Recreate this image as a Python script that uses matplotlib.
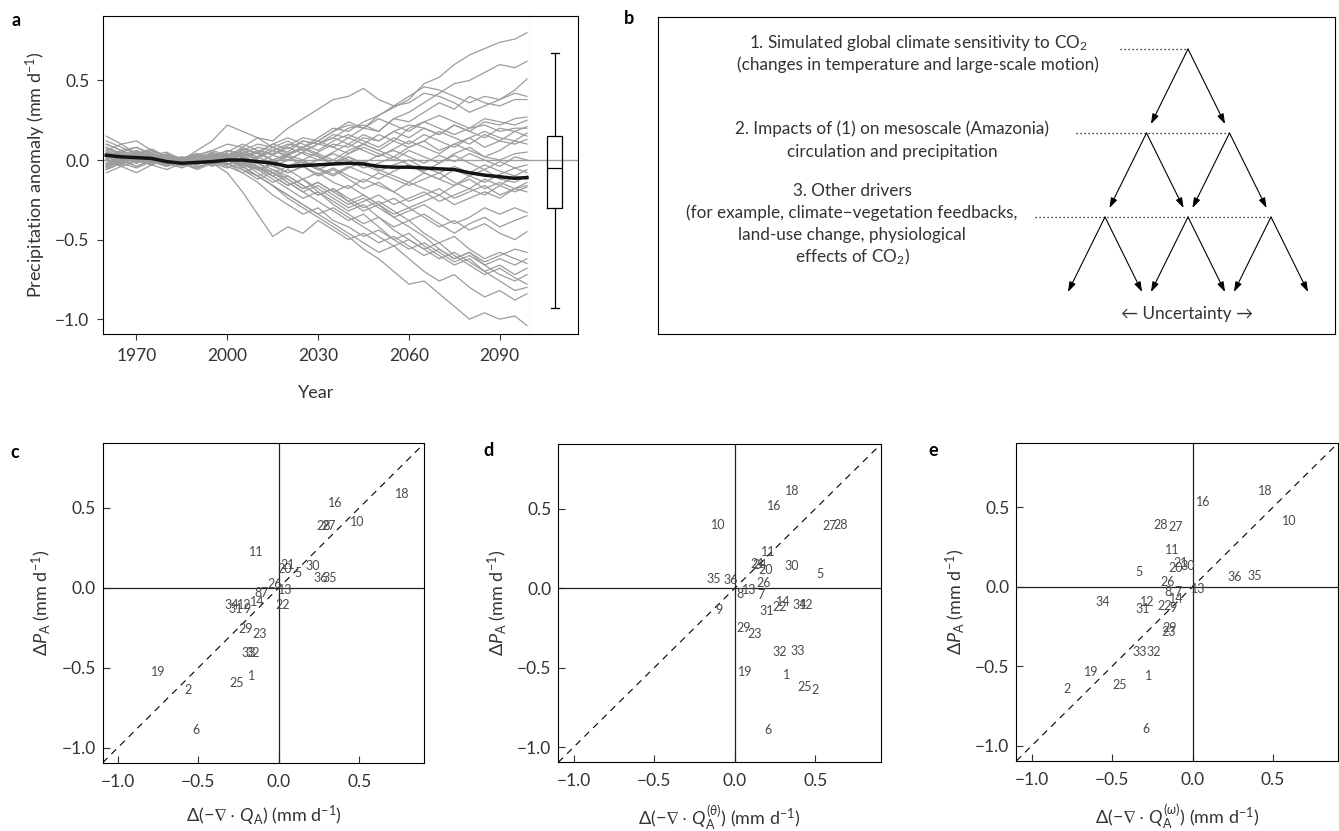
import numpy as np
import matplotlib.pyplot as plt
from matplotlib.ticker import FuncFormatter

plt.rcParams['font.family'] = ['Lato', 'DejaVu Sans']
plt.rcParams['mathtext.fontset'] = 'custom'
plt.rcParams['mathtext.rm'] = 'Lato'
plt.rcParams['mathtext.it'] = 'Lato:italic'
plt.rcParams['mathtext.fallback'] = 'stix'

W, H = 1339, 831
TXT = '#333333'

# %% panel a data: regional precipitation anomaly, 36 models (5-yr samples)
years = [1960, 1965, 1970, 1975, 1980, 1985, 1990, 1995, 2000, 2005, 2010, 2015, 2020, 2025,
         2030, 2035, 2040, 2045, 2050, 2055, 2060, 2065, 2070, 2075, 2080, 2085, 2090, 2095, 2099]

models = [
    [0.05,0.02,0.06,0.01,-0.02,-0.01,0.02,0.00,0.04,0.02,0.05,0.00,0.03,0.08,0.12,0.18,0.22,0.20,0.28,0.33,0.38,0.48,0.52,0.60,0.66,0.70,0.74,0.76,0.80],
    [0.00,0.04,-0.02,0.03,0.00,-0.03,0.01,0.05,0.02,0.08,0.04,0.10,0.07,0.12,0.10,0.16,0.14,0.20,0.18,0.26,0.30,0.36,0.42,0.48,0.50,0.55,0.60,0.58,0.62],
    [0.10,0.06,0.08,0.03,0.05,0.00,0.03,0.06,0.10,0.08,0.14,0.12,0.20,0.26,0.32,0.38,0.40,0.45,0.38,0.34,0.36,0.42,0.40,0.36,0.30,0.34,0.38,0.44,0.51],
    [-0.04,0.02,0.00,-0.02,0.03,0.00,0.04,0.02,0.06,0.04,0.08,0.06,0.10,0.08,0.14,0.20,0.18,0.24,0.28,0.34,0.40,0.46,0.44,0.40,0.36,0.40,0.38,0.42,0.40],
    [0.03,0.00,0.05,0.02,-0.01,0.02,0.00,-0.03,0.02,0.05,0.02,0.08,0.05,0.12,0.10,0.14,0.20,0.22,0.18,0.26,0.24,0.30,0.36,0.32,0.40,0.36,0.34,0.38,0.38],
    [0.06,0.10,0.04,0.07,0.02,0.00,-0.02,0.02,0.00,0.04,0.01,0.06,0.03,0.00,0.05,0.10,0.08,0.14,0.12,0.18,0.22,0.20,0.16,0.22,0.18,0.24,0.22,0.26,0.27],
    [-0.02,0.03,0.00,0.04,0.01,-0.02,0.02,0.00,0.05,0.10,0.06,0.04,0.09,0.14,0.12,0.18,0.24,0.20,0.26,0.22,0.18,0.24,0.28,0.24,0.20,0.26,0.24,0.22,0.25],
    [0.08,0.04,0.06,0.02,-0.02,0.00,0.06,0.12,0.22,0.18,0.14,0.08,0.12,0.06,0.10,0.14,0.10,0.16,0.12,0.18,0.14,0.20,0.16,0.22,0.18,0.14,0.20,0.18,0.21],
    [0.00,-0.03,0.02,-0.01,0.03,0.00,-0.02,0.01,-0.03,0.02,0.06,0.03,0.00,0.05,0.10,0.08,0.14,0.10,0.06,0.12,0.20,0.24,0.20,0.16,0.20,0.22,0.18,0.20,0.20],
    [0.04,0.00,0.03,0.06,0.02,-0.01,0.03,0.06,0.03,0.00,0.05,0.10,0.14,0.10,0.06,0.12,0.16,0.12,0.08,0.14,0.10,0.16,0.12,0.08,0.14,0.18,0.14,0.12,0.17],
    [-0.06,-0.02,0.02,-0.02,0.00,-0.04,0.00,0.04,0.02,0.06,0.10,0.08,0.04,0.08,0.04,0.00,0.06,0.10,0.16,0.12,0.08,0.12,0.18,0.14,0.10,0.16,0.12,0.18,0.15],
    [0.02,0.06,0.02,0.00,0.04,0.01,0.04,0.00,0.03,0.07,0.04,0.00,0.04,0.08,0.12,0.08,0.04,0.10,0.06,0.02,0.08,0.12,0.06,0.10,0.14,0.08,0.12,0.10,0.13],
    [0.00,0.05,0.08,0.04,0.00,0.02,-0.02,0.02,0.06,0.02,-0.02,0.03,0.08,0.04,0.00,0.05,0.10,0.06,0.02,0.07,0.12,0.08,0.04,0.10,0.06,0.02,0.06,0.12,0.10],
    [0.12,0.08,0.04,0.06,0.02,0.00,0.03,-0.01,0.02,0.06,0.02,-0.02,0.03,0.07,0.03,-0.02,0.04,0.08,0.04,0.00,0.06,0.02,-0.02,0.04,0.08,0.02,0.00,0.04,0.05],
    [-0.05,0.00,0.04,0.00,-0.04,-0.01,0.02,-0.02,0.00,0.04,0.00,-0.04,0.00,0.05,0.02,-0.03,0.02,-0.02,0.03,0.06,0.02,-0.02,0.03,-0.01,0.04,0.00,-0.04,0.02,0.00],
    [0.15,0.10,0.12,0.06,0.02,-0.02,0.00,0.03,0.00,-0.03,0.02,0.06,0.02,-0.04,0.00,0.04,0.00,-0.05,-0.02,0.02,-0.03,-0.07,-0.02,0.03,-0.02,-0.06,-0.01,-0.05,-0.03],
    [0.02,-0.02,0.01,0.04,0.00,-0.03,0.00,0.04,0.01,-0.03,-0.06,-0.02,0.02,-0.02,-0.06,-0.02,0.02,-0.03,-0.07,-0.03,0.00,-0.05,-0.08,-0.04,-0.08,-0.03,-0.07,-0.10,-0.06],
    [-0.06,-0.02,-0.05,-0.01,-0.04,0.00,-0.03,0.00,0.04,0.00,-0.04,-0.08,-0.04,0.00,-0.05,-0.09,-0.04,-0.08,-0.12,-0.07,-0.03,-0.08,-0.12,-0.06,-0.10,-0.14,-0.09,-0.05,-0.08],
    [0.08,0.04,0.00,0.03,-0.02,0.01,0.04,0.00,-0.03,0.02,0.05,0.00,-0.05,-0.01,-0.06,-0.10,-0.05,-0.01,-0.06,-0.10,-0.14,-0.08,-0.12,-0.16,-0.10,-0.06,-0.12,-0.14,-0.10],
    [0.00,0.04,0.00,-0.03,0.01,-0.02,-0.05,-0.01,0.03,-0.02,-0.06,-0.03,-0.08,-0.04,-0.09,-0.05,-0.10,-0.14,-0.08,-0.12,-0.16,-0.12,-0.08,-0.14,-0.18,-0.12,-0.16,-0.10,-0.12],
    [-0.03,0.01,0.05,0.01,-0.03,0.00,0.03,-0.02,-0.05,-0.01,-0.05,-0.10,-0.06,-0.12,-0.08,-0.14,-0.18,-0.12,-0.16,-0.20,-0.14,-0.18,-0.22,-0.16,-0.12,-0.18,-0.14,-0.18,-0.14],
    [0.05,0.00,-0.04,0.00,0.03,-0.01,0.02,-0.03,0.00,0.04,0.00,-0.04,-0.08,-0.04,-0.10,-0.06,-0.12,-0.18,-0.14,-0.20,-0.26,-0.22,-0.18,-0.24,-0.20,-0.16,-0.22,-0.18,-0.16],
    [-0.08,-0.04,-0.08,-0.03,-0.06,-0.02,-0.05,-0.01,-0.04,-0.08,-0.04,-0.10,-0.16,-0.12,-0.18,-0.24,-0.30,-0.26,-0.22,-0.28,-0.24,-0.20,-0.26,-0.22,-0.18,-0.22,-0.16,-0.20,-0.17],
    [0.10,0.06,0.02,0.05,0.00,-0.03,0.00,0.04,0.00,-0.04,-0.10,-0.06,-0.12,-0.18,-0.14,-0.20,-0.16,-0.22,-0.28,-0.24,-0.30,-0.26,-0.22,-0.28,-0.24,-0.20,-0.24,-0.18,-0.20],
    [0.02,-0.02,0.02,-0.01,-0.04,0.00,-0.03,0.01,-0.02,-0.06,-0.12,-0.08,-0.14,-0.20,-0.16,-0.22,-0.28,-0.24,-0.30,-0.36,-0.32,-0.28,-0.34,-0.40,-0.36,-0.30,-0.34,-0.30,-0.33],
    [-0.02,0.02,-0.02,0.01,0.04,0.00,-0.04,-0.02,0.02,-0.02,-0.08,-0.14,-0.10,-0.16,-0.22,-0.18,-0.24,-0.30,-0.26,-0.32,-0.38,-0.34,-0.40,-0.46,-0.40,-0.36,-0.42,-0.38,-0.35],
    [0.06,0.02,-0.02,0.02,-0.02,0.01,-0.02,0.02,0.00,-0.05,-0.02,-0.08,-0.12,-0.18,-0.14,-0.20,-0.26,-0.22,-0.28,-0.34,-0.30,-0.36,-0.42,-0.38,-0.44,-0.40,-0.46,-0.50,-0.45],
    [0.00,-0.04,0.00,-0.03,0.01,-0.02,-0.06,-0.02,-0.08,-0.20,-0.34,-0.48,-0.42,-0.46,-0.38,-0.44,-0.50,-0.46,-0.52,-0.48,-0.54,-0.60,-0.56,-0.62,-0.58,-0.64,-0.60,-0.56,-0.58],
    [-0.05,-0.01,0.03,0.00,-0.03,0.01,-0.02,0.02,-0.02,-0.08,-0.14,-0.22,-0.28,-0.34,-0.30,-0.38,-0.42,-0.48,-0.44,-0.50,-0.56,-0.52,-0.58,-0.64,-0.60,-0.66,-0.62,-0.66,-0.62],
    [0.04,0.00,0.04,0.01,-0.02,0.01,0.04,0.00,0.03,-0.01,-0.05,-0.10,-0.16,-0.12,-0.20,-0.26,-0.32,-0.28,-0.36,-0.42,-0.38,-0.46,-0.52,-0.48,-0.56,-0.62,-0.58,-0.62,-0.65],
    [-0.03,0.00,-0.04,0.00,-0.02,-0.05,-0.01,0.03,0.00,-0.04,-0.10,-0.16,-0.22,-0.28,-0.34,-0.30,-0.36,-0.42,-0.48,-0.54,-0.50,-0.56,-0.62,-0.58,-0.64,-0.70,-0.66,-0.72,-0.68],
    [0.01,0.05,0.00,0.03,0.00,-0.03,0.00,-0.04,0.00,0.03,-0.02,-0.06,-0.10,-0.16,-0.22,-0.18,-0.26,-0.32,-0.28,-0.36,-0.42,-0.48,-0.56,-0.62,-0.58,-0.66,-0.72,-0.76,-0.72],
    [0.07,0.03,0.00,-0.03,0.01,-0.02,0.02,-0.02,0.02,-0.02,-0.06,-0.12,-0.18,-0.24,-0.20,-0.28,-0.34,-0.40,-0.36,-0.44,-0.50,-0.56,-0.52,-0.60,-0.66,-0.72,-0.68,-0.74,-0.78],
    [-0.04,0.00,0.03,-0.01,0.02,0.00,0.03,0.00,-0.03,0.01,-0.04,-0.08,-0.14,-0.20,-0.26,-0.32,-0.38,-0.34,-0.42,-0.50,-0.46,-0.54,-0.60,-0.66,-0.62,-0.70,-0.76,-0.82,-0.80],
    [0.00,-0.04,-0.01,0.02,-0.02,0.01,-0.03,0.01,-0.02,-0.06,-0.10,-0.16,-0.22,-0.28,-0.34,-0.40,-0.46,-0.52,-0.58,-0.54,-0.62,-0.70,-0.76,-0.72,-0.80,-0.86,-0.82,-0.88,-0.84],
    [0.03,-0.01,0.02,-0.02,0.01,-0.02,0.01,-0.03,0.00,-0.04,-0.10,-0.16,-0.24,-0.30,-0.36,-0.42,-0.48,-0.56,-0.62,-0.70,-0.78,-0.76,-0.84,-0.92,-1.00,-0.96,-1.00,-0.98,-1.04],
]

ens_mean = [0.03,0.02,0.015,0.01,-0.01,-0.02,-0.015,-0.01,0.0,0.0,-0.01,-0.02,-0.04,-0.035,
            -0.03,-0.025,-0.02,-0.025,-0.04,-0.045,-0.045,-0.05,-0.055,-0.06,-0.08,-0.095,-0.105,-0.115,-0.11]

# box of end-of-century spread
box_med, box_q1, box_q3, box_lo, box_hi = -0.05, -0.30, 0.15, -0.93, 0.67

# %% panels c-e: model numbers placed at (moisture convergence change, precip change)
c_ids = [18,16,28,27,10,11,21,20,5,30,36,35,26,13,8,7,22,34,12,14,31,9,29,23,33,32,19,1,25,2,6]
c_x = [0.77,0.35,0.28,0.31,0.485,-0.14,0.056,0.035,0.118,0.21,0.26,0.315,-0.025,0.04,-0.13,-0.09,
       0.025,-0.29,-0.215,-0.135,-0.265,-0.20,-0.207,-0.116,-0.19,-0.16,-0.747,-0.17,-0.26,-0.566,-0.515]
c_y = [0.59,0.53,0.39,0.39,0.41,0.225,0.14,0.117,0.094,0.138,0.063,0.063,0.027,-0.015,-0.035,-0.035,
       -0.105,-0.105,-0.105,-0.09,-0.134,-0.134,-0.26,-0.286,-0.41,-0.41,-0.53,-0.55,-0.595,-0.64,-0.89]

d_ids = [18,16,10,27,28,11,21,24,20,30,5,35,36,26,13,8,7,14,22,34,12,31,9,29,23,32,33,19,1,25,2,6]
d_x = [0.354,0.246,-0.106,0.588,0.656,0.205,0.143,0.153,0.19,0.356,0.526,-0.13,-0.027,0.178,0.087,0.033,
       0.164,0.298,0.28,0.406,0.443,0.20,-0.10,0.054,0.122,0.28,0.39,0.064,0.319,0.433,0.495,0.205]
d_y = [0.61,0.518,0.40,0.39,0.40,0.23,0.152,0.148,0.117,0.138,0.09,0.058,0.054,0.031,-0.01,-0.035,
       -0.04,-0.088,-0.12,-0.104,-0.104,-0.146,-0.14,-0.25,-0.29,-0.40,-0.395,-0.526,-0.543,-0.62,-0.64,-0.89]

e_ids = [18,16,10,28,27,11,21,20,30,5,26,36,35,13,8,7,14,34,12,31,22,9,29,23,33,32,19,1,25,2,6]
e_x = [0.45,0.066,0.60,-0.20,-0.108,-0.124,-0.077,-0.104,-0.03,-0.33,-0.155,0.263,0.388,0.035,-0.155,
       -0.093,-0.104,-0.56,-0.28,-0.307,-0.172,-0.124,-0.145,-0.15,-0.326,-0.24,-0.63,-0.276,-0.45,-0.78,-0.288]
e_y = [0.60,0.53,0.41,0.39,0.378,0.23,0.148,0.117,0.13,0.094,0.027,0.063,0.069,-0.015,-0.035,-0.035,
       -0.08,-0.098,-0.098,-0.14,-0.12,-0.136,-0.26,-0.286,-0.41,-0.41,-0.537,-0.564,-0.62,-0.64,-0.896]


def px(l, t, w, h):
    # rectangle in pixels from top-left -> figure fraction
    return [l / W, 1 - (t + h) / H, w / W, h / H]


fmt = FuncFormatter(lambda v, p: f'{v:.1f}'.replace('-', '\u2212'))

fig = plt.figure(figsize=(W / 100, H / 100), dpi=100)

# %% panel a
ax_a = fig.add_axes(px(103.2, 16, 426.8, 318.3))
for m in models:
    ax_a.plot(years, m, color='#9c9c9c', lw=0.9)
ax_a.plot(years, ens_mean, color='#141414', lw=2.5)
ax_a.axhline(0, color='#a0a0a0', lw=1.0, zorder=0)
ax_a.set_xlim(1959, 2100)
ax_a.set_ylim(-1.095, 0.905)
ax_a.set_xticks([1970, 2000, 2030, 2060, 2090])
ax_a.set_yticks([-1.0, -0.5, 0.0, 0.5])
ax_a.yaxis.set_major_formatter(fmt)
ax_a.tick_params(direction='out', length=4, width=0.8, labelsize=12.5, colors=TXT, pad=6)
ax_a.set_xlabel('Year', fontsize=13, color=TXT, labelpad=15)
ax_a.set_ylabel('Precipitation anomaly (mm d$^{-1}$)', fontsize=13, color=TXT, labelpad=5)
ax_a.spines['right'].set_color('#777777')

ax_bx = fig.add_axes(px(530, 16, 48, 318.3))
ax_bx.bxp([dict(med=box_med, q1=box_q1, q3=box_q3, whislo=box_lo, whishi=box_hi, fliers=[])],
          positions=[0.517], widths=0.31, showfliers=False,
          boxprops=dict(lw=0.9), whiskerprops=dict(lw=0.9), capprops=dict(lw=0.9),
          medianprops=dict(color='black', lw=0.9))
ax_bx.axhline(0, color='#a0a0a0', lw=1.0, zorder=0)
ax_bx.set_xlim(0, 1)
ax_bx.set_ylim(-1.095, 0.905)
ax_bx.set_xticks([])
ax_bx.set_yticks([])
ax_bx.spines['left'].set_visible(False)

# %% panel b: uncertainty cascade diagram (box pixel units)
bw, bh = 677, 317.6
ax_b = fig.add_axes(px(658, 16.7, bw, bh))
ax_b.set_xlim(0, bw)
ax_b.set_ylim(bh, 0)
ax_b.set_xticks([])
ax_b.set_yticks([])

root_x, root_y, step_x, step_y, gap = 530, 32.3, 41.5, 84, 9
dot_starts = [462, 418, 377]
nodes = [root_x]
for lev in range(3):
    y0 = root_y + lev * step_y
    ax_b.plot([dot_starts[lev], max(nodes)], [y0, y0], color='black', lw=0.9, ls=(0, (1, 2.2)))
    children = []
    f = (step_y - gap) / step_y
    for nx in nodes:
        for s in (-1, 1):
            ax_b.annotate('', xy=(nx + s * step_x * f, y0 + step_y * f), xytext=(nx, y0),
                          arrowprops=dict(arrowstyle='-|>,head_length=0.6,head_width=0.2',
                                          color='black', lw=0.8, shrinkA=0, shrinkB=0))
            children.append(round(nx + s * step_x, 1))
    nodes = sorted(set(children))

fs_b = 12.3
b_lines = [
    (260, 26.6, '1. Simulated global climate sensitivity to CO$_2$'),
    (260, 48.3, '(changes in temperature and large-scale motion)'),
    (234, 112.3, '2. Impacts of (1) on mesoscale (Amazonia)'),
    (234, 135.6, 'circulation and precipitation'),
    (194, 174, '3. Other drivers'),
    (194, 195.6, '(for example, climate\u2212vegetation feedbacks,'),
    (194, 218.3, 'land-use change, physiological'),
    (194, 240, 'effects of CO$_2$)'),
    (529, 297.6, '\u2190 Uncertainty \u2192'),
]
for x, y, s in b_lines:
    ax_b.text(x, y, s, ha='center', va='center', fontsize=fs_b, color=TXT)

# %% panels c, d, e
xlabels = [r'$\Delta(-\nabla\cdot\,Q_{\rm A})$ (mm d$^{-1}$)',
           r'$\Delta(-\nabla\cdot\,Q_{\rm A}^{(\theta)})$ (mm d$^{-1}$)',
           r'$\Delta(-\nabla\cdot\,Q_{\rm A}^{(\omega)})$ (mm d$^{-1}$)']
boxes = [(102.7, 443.3, 321.6, 319.4), (558.3, 444.3, 322.4, 318.0), (1016.3, 442.7, 322.0, 318.3)]
sets = [(c_ids, c_x, c_y), (d_ids, d_x, d_y), (e_ids, e_x, e_y)]
lim = (-1.095, 0.905)
for (l, t, w, h), (ids, xs, ys), xl in zip(boxes, sets, xlabels):
    ax = fig.add_axes(px(l, t, w, h))
    ax.set_xlim(lim)
    ax.set_ylim(lim)
    ax.plot(lim, lim, color='black', lw=0.8, ls=(0, (6, 5)))
    ax.axhline(0, color='#222222', lw=0.9)
    ax.axvline(0, color='#222222', lw=0.9)
    for i, x, y in zip(ids, xs, ys):
        ax.text(x, y, str(i), ha='center', va='center', fontsize=9, color='#4a4a4a')
    ticks = [-1.0, -0.5, 0.0, 0.5]
    ax.set_xticks(ticks)
    ax.set_yticks(ticks)
    ax.xaxis.set_major_formatter(fmt)
    ax.yaxis.set_major_formatter(fmt)
    ax.tick_params(direction='in', length=5, width=0.8, labelsize=12.5, colors=TXT)
    ax.tick_params(axis='x', pad=8)
    ax.tick_params(axis='y', pad=5)
    ax.set_xlabel(xl, fontsize=13, color=TXT, labelpad=10)
    ax.set_ylabel(r'$\Delta P_{\rm A}$ (mm d$^{-1}$)', fontsize=13, color=TXT, labelpad=6)

for lab, x, y in [('a', 16, 20), ('b', 629, 18), ('c', 15, 452), ('d', 488, 450), ('e', 933, 450)]:
    fig.text(x / W, 1 - y / H, lab, fontsize=13, fontweight='bold', ha='center', va='center')

fig.savefig('out.png', dpi=100)
